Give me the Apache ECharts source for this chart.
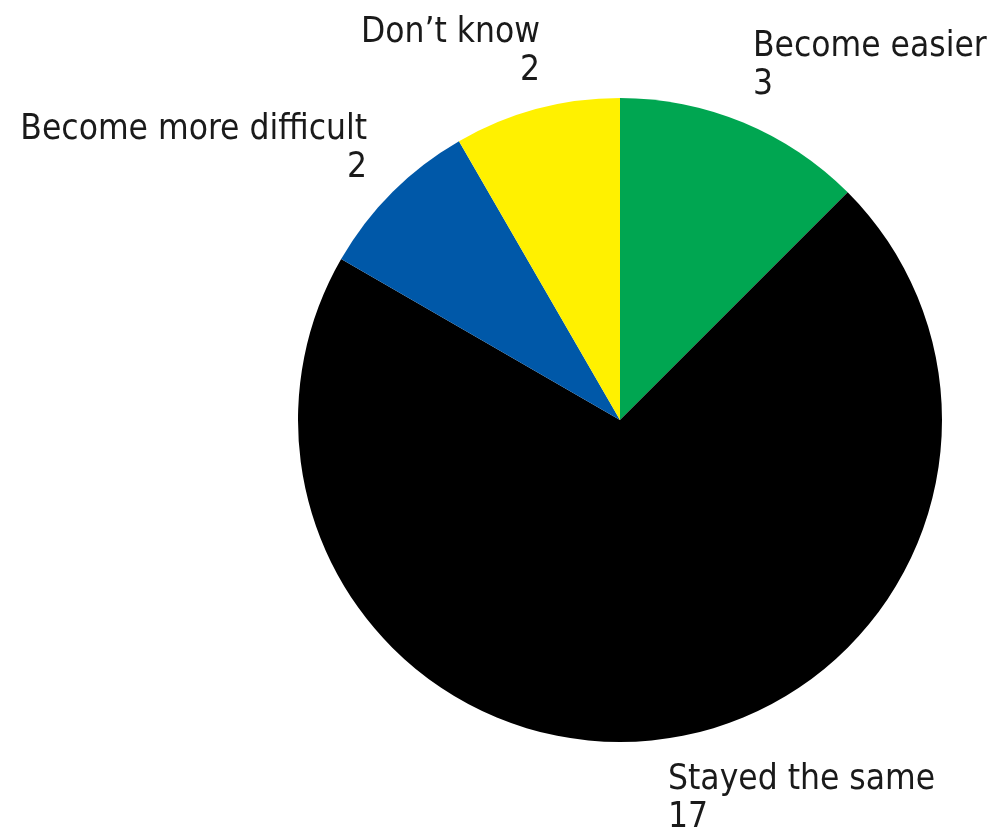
<!DOCTYPE html>
<html>
<head>
<meta charset="utf-8">
<style>html,body{margin:0;padding:0;background:#fff;}#c{width:1001px;height:831px;}</style>
<script src="https://cdn.jsdelivr.net/npm/echarts@6/dist/echarts.min.js"></script>
</head>
<body>
<div id="c"></div>
<script>
const categories = ['Become easier', 'Stayed the same', 'Become more difficult', 'Don\u2019t know'];
const values = [3, 17, 2, 2];
const colors = ['#00a651', '#000000', '#0058a8', '#fff100'];
// label anchor: [x, y, align]
const labelAnchors = [[753, 28, 'left'], [668, 761, 'left'], [367, 111, 'right'], [540, 14, 'right']];

const chart = echarts.init(document.getElementById('c'), null, {renderer: 'canvas'});
chart.setOption({
  animation: false,
  series: [{
    type: 'pie',
    center: [620, 420],
    radius: [0, 322],
    startAngle: 90,
    clockwise: true,
    itemStyle: {borderWidth: 0},
    emphasis: {disabled: true},
    label: {
      show: true,
      position: 'outside',
      formatter: '{b}\n{c}',
      overflow: 'none',
      fontFamily: '"DejaVu Sans Condensed", "Liberation Sans Narrow", sans-serif',
      fontSize: 35,
      lineHeight: 38,
      color: '#1a1a1a'
    },
    labelLine: {show: false},
    labelLayout: function (p) {
      const a = labelAnchors[p.dataIndex];
      return {x: a[0], y: a[1], align: a[2], verticalAlign: 'top', hideOverlap: false, moveOverlap: false};
    },
    data: categories.map((c, i) => ({name: c, value: values[i], itemStyle: {color: colors[i]}, label: {align: labelAnchors[i][2]}}))
  }]
});
</script>
</body>
</html>
